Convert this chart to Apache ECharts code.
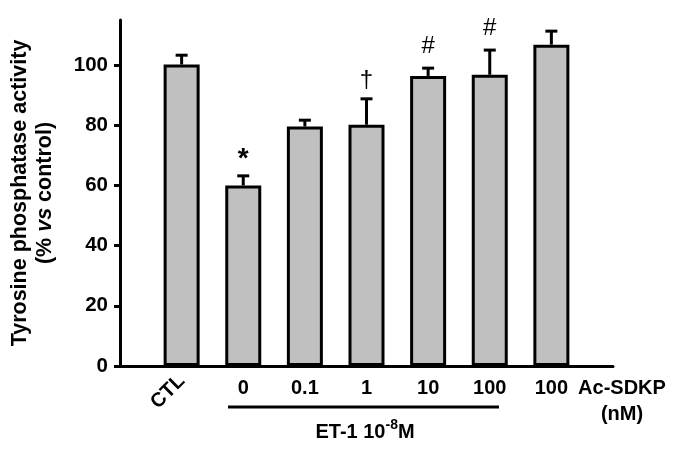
<!DOCTYPE html>
<html>
<head>
<meta charset="utf-8">
<script src="https://cdn.jsdelivr.net/npm/echarts@6/dist/echarts.min.js"></script>
<style>
html, body { margin: 0; padding: 0; background: #fff; }
#main { width: 682px; height: 451px; }
</style>
</head>
<body>
<div id="main"></div>
<script>
var groups = ['CTL', '0', '0.1', '1', '10', '100', '100'];
var means = [100.2, 60, 79.6, 80.2, 96.4, 96.8, 106.8];
var errs = [3.1, 3.2, 2.1, 8.6, 2.6, 8.2, 4.5];
var marks = ['', '*', '', '†', '#', '#', ''];
var yTicks = [0, 20, 40, 60, 80, 100];

// slot 0 and slot 8 are empty: the axis runs half a bar gap past the outer bars
var axisCats = [''].concat(groups, ['Ac-SDKP\n(nM)']);
var ctlCats = axisCats.map(function (c, i) { return i === 1 ? c : ''; });

var barData = [null].concat(means, [null]);
var errData = means.map(function (m, i) { return [i + 1, m, m + errs[i], marks[i]]; });

var font = 'Liberation Sans, Arial, sans-serif';

var chart = echarts.init(document.getElementById('main'));

var option = {
    animation: false,
    grid: { left: 118, right: 69, top: 20, bottom: 85 },
    xAxis: [{
        type: 'category',
        data: axisCats,
        boundaryGap: false,
        axisLine: { lineStyle: { color: '#000', width: 3 } },
        axisTick: { show: false },
        axisLabel: {
            interval: 0,
            margin: 9,
            color: '#000',
            fontFamily: font,
            fontWeight: 'bold',
            fontSize: 20,
            lineHeight: 27,
            formatter: function (v, i) {
                if (i === 1) return '';
                if (i === axisCats.length - 1) return v.split('\n').map(function (s) { return '{u|' + s + '}'; }).join('\n');
                return v;
            },
            rich: {
                u: { fontFamily: font, fontWeight: 'bold', fontSize: 20, color: '#000', lineHeight: 26, padding: [0, 0, 0, 18] }
            }
        }
    }, {
        // second axis only carries the slanted CTL label
        type: 'category',
        data: ctlCats,
        boundaryGap: false,
        position: 'bottom',
        axisLine: { show: false },
        axisTick: { show: false },
        axisLabel: {
            interval: 0,
            rotate: 45,
            margin: 12,
            color: '#000',
            fontFamily: font,
            fontWeight: 'bold',
            fontSize: 20
        }
    }],
    yAxis: {
        type: 'value',
        min: 0,
        max: 115,
        interval: 20,
        splitLine: { show: false },
        axisLine: { show: true, lineStyle: { color: '#000', width: 3 } },
        axisTick: { show: true, length: 6, customValues: yTicks, lineStyle: { color: '#000', width: 3 } },
        axisLabel: {
            customValues: yTicks,
            margin: 12,
            color: '#000',
            fontFamily: font,
            fontWeight: 'bold',
            fontSize: 20.5
        },
        name: '{a|Tyrosine phosphatase activity}\n{a|(% }{i|vs}{a| control)}',
        nameLocation: 'middle',
        nameRotate: 90,
        nameGap: 62,
        nameTextStyle: {
            lineHeight: 25,
            rich: {
                a: { fontFamily: font, fontWeight: 'bold', fontSize: 21.5, color: '#000', lineHeight: 25 },
                i: { fontFamily: font, fontWeight: 'bold', fontStyle: 'italic', fontSize: 21.5, color: '#000', lineHeight: 25 }
            }
        }
    },
    series: [{
        type: 'bar',
        data: barData,
        barWidth: 36,
        itemStyle: { color: '#c0c0c0', borderColor: '#000', borderWidth: 3 },
        z: 3
    }, {
        type: 'custom',
        data: errData,
        z: 2,
        renderItem: function (params, api) {
            var base = api.coord([api.value(0), api.value(1)]);
            var top = api.coord([api.value(0), api.value(2)]);
            var mark = errData[params.dataIndex][3];
            var st = { stroke: '#000', lineWidth: 3 };
            var kids = [
                { type: 'line', shape: { x1: base[0], y1: base[1], x2: top[0], y2: top[1] }, style: st },
                { type: 'line', shape: { x1: top[0] - 6, y1: top[1], x2: top[0] + 6, y2: top[1] }, style: st }
            ];
            if (mark) {
                kids.push({
                    type: 'text',
                    x: top[0],
                    y: top[1] - (mark === '*' ? 3 : mark === '#' ? 10 : 6),
                    style: {
                        text: mark,
                        fill: '#000',
                        fontFamily: font,
                        fontSize: mark === '*' ? 28 : 24,
                        fontWeight: mark === '*' ? 'bold' : 'normal',
                        align: 'center',
                        verticalAlign: 'bottom'
                    }
                });
            }
            return { type: 'group', children: kids };
        }
    }],
    graphic: [{
        type: 'line',
        shape: { x1: 228, y1: 407, x2: 499, y2: 407 },
        style: { stroke: '#000', lineWidth: 3 }
    }, {
        type: 'text',
        x: 365,
        y: 430,
        style: {
            text: '{a|ET-1 10}{s|-8}{a|M}',
            align: 'center',
            verticalAlign: 'middle',
            rich: {
                a: { fontFamily: font, fontWeight: 'bold', fontSize: 20, fill: '#000', verticalAlign: 'bottom' },
                s: { fontFamily: font, fontWeight: 'bold', fontSize: 14, fill: '#000', verticalAlign: 'top', padding: [0, 0, 10, 0] }
            }
        }
    }]
};

chart.setOption(option);
</script>
</body>
</html>
